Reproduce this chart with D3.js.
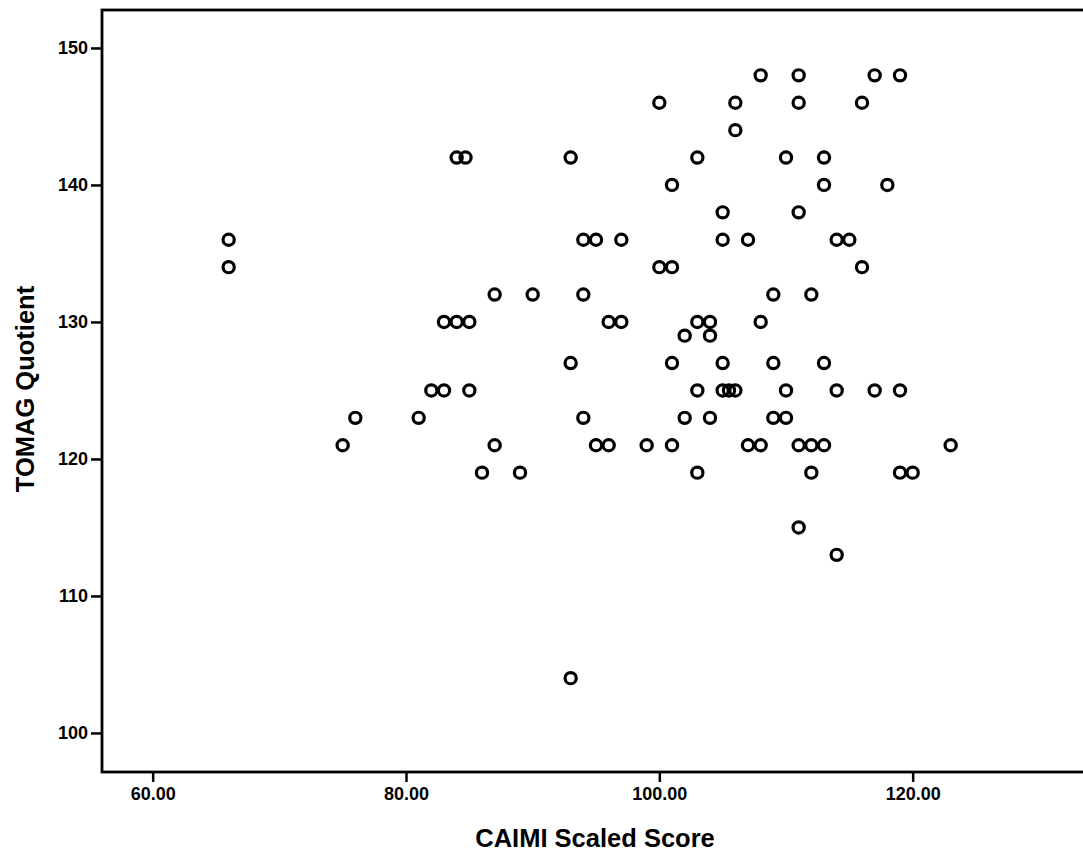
<!DOCTYPE html>
<html>
<head>
<meta charset="utf-8">
<script src="https://cdn.jsdelivr.net/npm/d3@7"></script>
<style>
  body { margin: 0; background: #fff; }
  svg text { font-family: "Liberation Sans", Arial, sans-serif; fill: #000; }
  .tick text { font-size: 18px; font-weight: bold; }
  .axis-title { font-size: 25.5px; font-weight: bold; }
</style>
</head>
<body>
<div id="chart"></div>
<script>
// CAIMI scaled score (x) and TOMAG quotient (y), one entry per student
const caimi = [
  108, 111, 117, 119,
  100, 106, 111, 116,
  106,
  84, 84.7, 93, 103, 110, 113,
  101, 113, 118,
  105, 111,
  66, 94, 95, 97, 105, 107, 114, 115,
  66, 100, 101, 116,
  87, 90, 94, 109, 112,
  83, 84, 85, 96, 97, 103, 104, 108,
  102, 104,
  93, 101, 105, 109, 113,
  82, 83, 85, 103, 105, 105.5, 106, 110, 114, 117, 119,
  76, 81, 94, 102, 104, 109, 110,
  75, 87, 95, 96, 99, 101, 107, 108, 111, 112, 113, 123,
  86, 89, 103, 112, 119, 120,
  111,
  114,
  93
];
const tomag = [
  148, 148, 148, 148,
  146, 146, 146, 146,
  144,
  142, 142, 142, 142, 142, 142,
  140, 140, 140,
  138, 138,
  136, 136, 136, 136, 136, 136, 136, 136,
  134, 134, 134, 134,
  132, 132, 132, 132, 132,
  130, 130, 130, 130, 130, 130, 130, 130,
  129, 129,
  127, 127, 127, 127, 127,
  125, 125, 125, 125, 125, 125, 125, 125, 125, 125, 125,
  123, 123, 123, 123, 123, 123, 123,
  121, 121, 121, 121, 121, 121, 121, 121, 121, 121, 121, 121,
  119, 119, 119, 119, 119, 119,
  115,
  113,
  104
];
const xTicks = [60, 80, 100, 120];
const yTicks = [100, 110, 120, 130, 140, 150];
const xLabel = "CAIMI Scaled Score";
const yLabel = "TOMAG Quotient";

const points = caimi.map((x, i) => ({ x, y: tomag[i] }));

const W = 1083, H = 852;
const margin = { top: 10, right: -7, bottom: 80, left: 102 };
const width = W - margin.left - margin.right,
      height = H - margin.top - margin.bottom;

const svg = d3.select("#chart")
  .append("svg")
  .attr("width", W)
  .attr("height", H);

const g = svg.append("g")
  .attr("transform", `translate(${margin.left},${margin.top})`);

// SPSS pads the axes a bit past the data
const xScale = d3.scaleLinear().domain([56, 134]).range([0, width]);
const yScale = d3.scaleLinear().domain([97.15, 152.77]).range([height, 0]);

// frame
g.append("rect")
  .attr("width", width)
  .attr("height", height)
  .attr("fill", "none")
  .attr("stroke", "#000")
  .attr("stroke-width", 2.8);

// y axis
const yAxis = g.append("g")
  .call(d3.axisLeft(yScale).tickValues(yTicks).tickFormat(d3.format("d")).tickSize(11).tickPadding(3));
yAxis.select(".domain").remove();
yAxis.selectAll(".tick line").attr("stroke", "#000").attr("stroke-width", 2.5);

// x axis
const xAxis = g.append("g")
  .attr("transform", `translate(0,${height})`)
  .call(d3.axisBottom(xScale).tickValues(xTicks).tickFormat(d3.format(".2f")).tickSize(10).tickPadding(5));
xAxis.select(".domain").remove();
xAxis.selectAll(".tick line").attr("stroke", "#000").attr("stroke-width", 2.5);

// points
g.append("g")
  .selectAll("circle")
  .data(points)
  .enter()
  .append("circle")
  .attr("cx", d => xScale(d.x))
  .attr("cy", d => yScale(d.y))
  .attr("r", 5.6)
  .attr("fill", "none")
  .attr("stroke", "#000")
  .attr("stroke-width", 3.2);

// axis titles
svg.append("text")
  .attr("class", "axis-title")
  .attr("x", 595)
  .attr("y", 847)
  .attr("text-anchor", "middle")
  .text(xLabel);

svg.append("text")
  .attr("class", "axis-title")
  .attr("transform", "translate(34,389) rotate(-90)")
  .attr("text-anchor", "middle")
  .text(yLabel);
</script>
</body>
</html>
